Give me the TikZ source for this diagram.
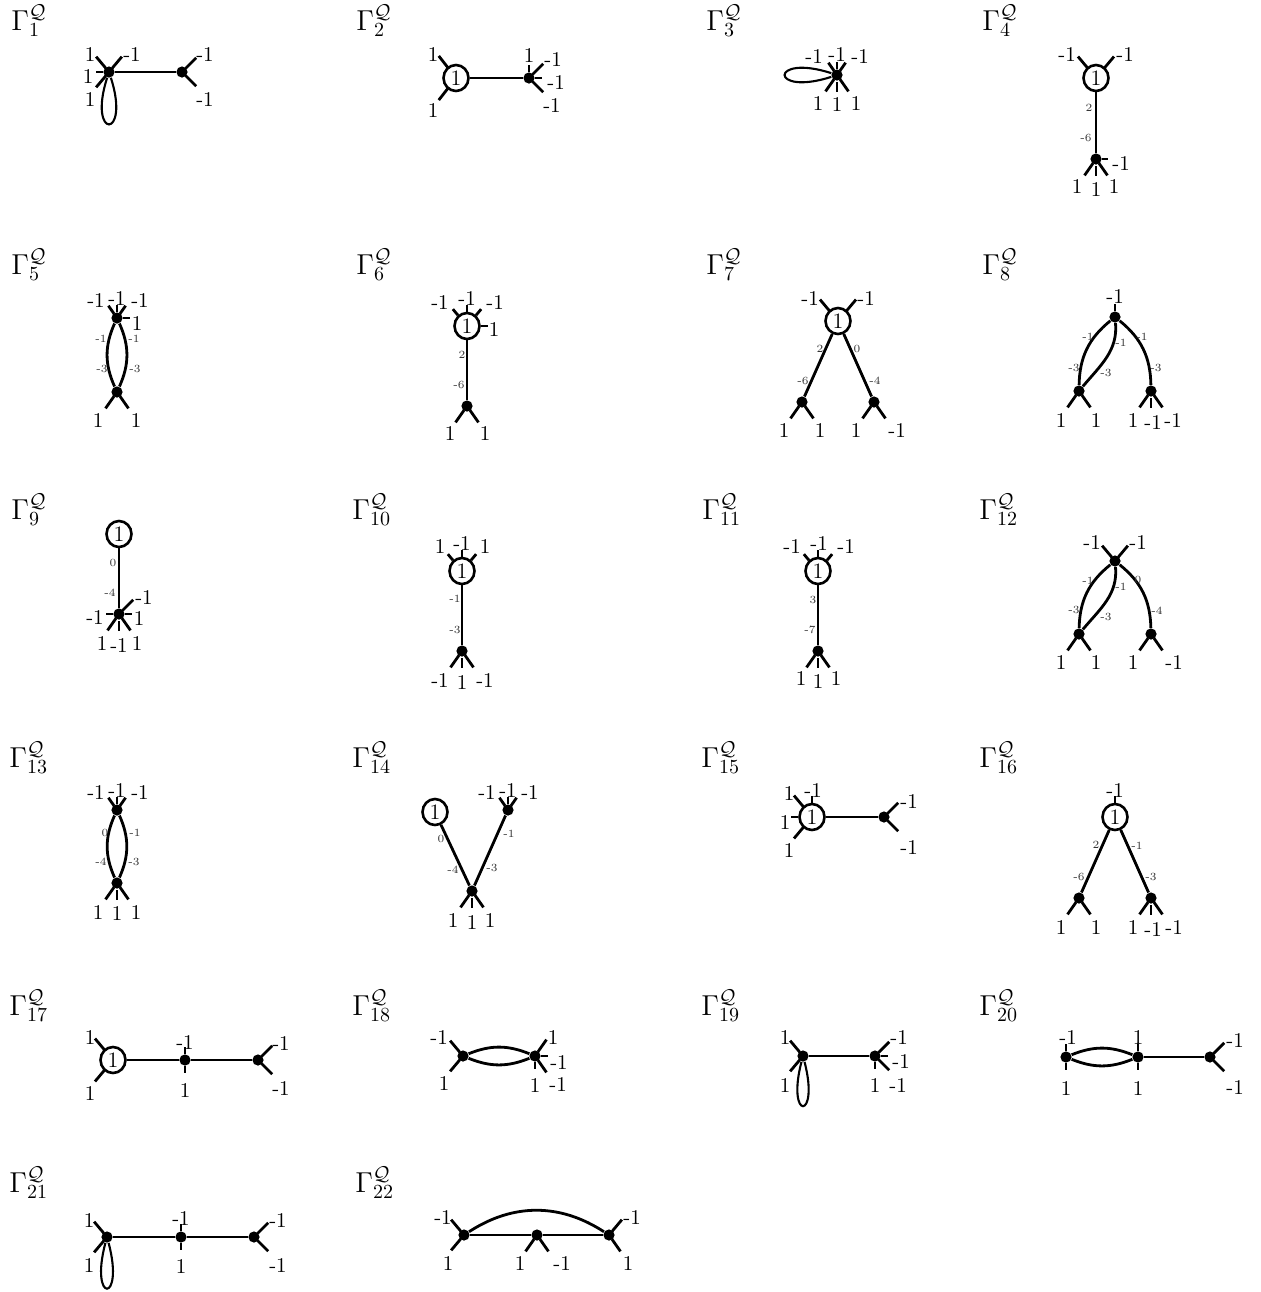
\documentclass[tikz,border=0pt]{standalone}
\usetikzlibrary{shapes.geometric}
\tikzset{
  dot/.style={circle, fill=black, inner sep=0pt, minimum size=5.6pt},
  vtx/.style={ellipse, draw, line width=1.3pt, inner sep=0pt, minimum width=12.5pt, minimum height=13pt, font=\fontsize{11}{12}\selectfont},
  edge/.style={line width=1.4pt},
  stub/.style={line width=1.4pt},
  lp/.style={line width=1.05pt},
  lbl/.style={inner sep=0pt, font=\fontsize{10.5}{12}\selectfont},
  sl/.style={inner sep=0pt, font=\fontsize{5.5}{6}\selectfont, text=black!80},
  ttl/.style={anchor=base west, inner sep=0pt, font=\Large},
}
\newcommand{\Stb}[4]{\draw[stub] ([shift={(#2:#3)}]#1.center) -- ([shift={(#2:#4)}]#1.center);}
\newcommand{\SDd}[2]{\Stb{#1}{#2}{5}{20}}
\newcommand{\SDt}[2]{\Stb{#1}{#2}{5}{15}}
\newcommand{\SDn}[2]{\Stb{#1}{#2}{6}{13}}
\newcommand{\SDs}[2]{\Stb{#1}{#2}{7}{17}}
\newcommand{\SCp}[2]{\Stb{#1}{#2}{13}{28}}
\newcommand{\SCf}[2]{\Stb{#1}{#2}{14}{22}}
\newcommand{\SCn}[2]{\Stb{#1}{#2}{14}{21}}
\newcounter{lbc}
\newcommand{\Lb}[2]{\stepcounter{lbc}\node[lbl] (lb\arabic{lbc}) at (#1) {#2};}
\newcommand{\Ls}[2]{\stepcounter{lbc}\node[sl] (lb\arabic{lbc}) at (#1) {#2};}
\newcommand{\Ttl}[3]{\node[ttl] (t#1) at (#2) {$\Gamma_{#3}^{\mathcal{Q}}$};}
\begin{document}
\begin{tikzpicture}[x=0.5pt,y=0.5pt]
\useasboundingbox (0,0) rectangle (1261,-1292);
% ---------- Gamma 1
\Ttl{1}{11,-30}{1}
\node[dot] (g1a) at (109,-72) {};
\node[dot] (g1b) at (182,-72) {};
\draw[edge] (g1a) -- (g1b);
\draw[lp] (g1a) .. controls +(-22,-68) and +(22,-68) .. (g1a);
\SDd{g1a}{130}\SDd{g1a}{50}\SDn{g1a}{180}\SDd{g1a}{230}
\SDd{g1b}{45}\SDd{g1b}{315}
\Lb{90,-55}{1}\Lb{132,-55}{-1}\Lb{88,-77}{1}\Lb{90,-100}{1}
\Lb{205,-55}{-1}\Lb{205,-100}{-1}
% ---------- Gamma 2
\Ttl{2}{356,-30}{2}
\node[vtx] (g2a) at (456,-78) {1};
\node[dot] (g2b) at (529,-78) {};
\draw[edge] (g2a) -- (g2b);
\SCp{g2a}{128}\SCp{g2a}{232}
\SDn{g2b}{90}\SDd{g2b}{45}\SDn{g2b}{0}\SDd{g2b}{315}
\Lb{433,-55}{1}\Lb{433,-110}{1}
\Lb{529,-56}{1}\Lb{553,-59}{-1}\Lb{556,-82}{-1}\Lb{552,-106}{-1}
% ---------- Gamma 3
\Ttl{3}{706,-30}{3}
\node[dot] (g3a) at (837,-75) {};
\draw[lp] (g3a) .. controls +(-68,22) and +(-68,-22) .. (g3a);
\SDt{g3a}{125}\SDn{g3a}{90}\SDt{g3a}{55}
\SDd{g3a}{235}\SDs{g3a}{270}\SDd{g3a}{305}
\Lb{814,-57}{-1}\Lb{837,-55}{-1}\Lb{860,-57}{-1}
\Lb{818,-103}{1}\Lb{837,-105}{1}\Lb{856,-103}{1}
% ---------- Gamma 4
\Ttl{4}{982,-30}{4}
\node[vtx] (g4a) at (1096,-78) {1};
\node[dot] (g4b) at (1096,-159) {};
\draw[edge] (g4a) -- (g4b);
\SCp{g4a}{130}\SCp{g4a}{50}
\Stb{g4b}{0}{6}{12}\SDd{g4b}{235}\SDs{g4b}{270}\SDd{g4b}{305}
\Lb{1067,-55}{-1}\Lb{1125,-55}{-1}
\Ls{1089,-108}{2}\Ls{1086,-138}{-6}
\Lb{1121,-164}{-1}\Lb{1077,-187}{1}\Lb{1096,-189}{1}\Lb{1114,-187}{1}
% ---------- Gamma 5
\Ttl{5}{11,-274}{5}
\node[dot] (g5a) at (117,-318) {};
\node[dot] (g5b) at (117,-392) {};
\draw[edge] (g5a) to[bend right=24] (g5b);
\draw[edge] (g5a) to[bend left=24] (g5b);
\SDt{g5a}{125}\SDn{g5a}{90}\SDt{g5a}{55}\SDn{g5a}{0}
\SDd{g5b}{235}\SDd{g5b}{305}
\Lb{96,-300}{-1}\Lb{117,-298}{-1}\Lb{140,-300}{-1}\Lb{137,-323}{1}
\Lb{98,-420}{1}\Lb{136,-420}{1}
\Ls{101,-339}{-1}\Ls{134,-339}{-1}\Ls{102,-369}{-3}\Ls{135,-369}{-3}
% ---------- Gamma 6
\Ttl{6}{356,-274}{6}
\node[vtx] (g6a) at (467,-326) {1};
\node[dot] (g6b) at (467,-406) {};
\draw[edge] (g6a) -- (g6b);
\SCf{g6a}{130}\SCn{g6a}{90}\SCf{g6a}{50}\SCn{g6a}{0}
\SDd{g6b}{235}\SDd{g6b}{305}
\Lb{440,-302}{-1}\Lb{467,-298}{-1}\Lb{495,-302}{-1}\Lb{494,-329}{1}
\Lb{450,-433}{1}\Lb{485,-433}{1}
\Ls{462,-355}{2}\Ls{459,-385}{-6}
% ---------- Gamma 7
\Ttl{7}{706,-274}{7}
\node[vtx] (g7a) at (838,-321) {1};
\node[dot] (g7b) at (802,-402) {};
\node[dot] (g7c) at (874,-402) {};
\draw[edge] (g7a) -- (g7b);
\draw[edge] (g7a) -- (g7c);
\SCp{g7a}{130}\SCp{g7a}{50}
\SDd{g7b}{235}\SDd{g7b}{305}\SDd{g7c}{235}\SDd{g7c}{305}
\Lb{810,-298}{-1}\Lb{866,-298}{-1}
\Lb{784,-430}{1}\Lb{820,-430}{1}\Lb{856,-430}{1}\Lb{897,-430}{-1}
\Ls{820,-349}{2}\Ls{857,-349}{0}\Ls{803,-381}{-6}\Ls{875,-381}{-4}
% ---------- Gamma 8
\Ttl{8}{982,-274}{8}
\node[dot] (g8a) at (1115,-317) {};
\node[dot] (g8b) at (1079,-391) {};
\node[dot] (g8c) at (1151,-391) {};
\draw[edge] (g8a) to[bend right=25] (g8b);
\draw[edge] (g8a) to[out=-85,in=50] (g8b);
\draw[edge] (g8a) to[bend left=25] (g8c);
\SDn{g8a}{90}
\SDd{g8b}{235}\SDd{g8b}{305}
\SDd{g8c}{235}\SDs{g8c}{270}\SDd{g8c}{305}
\Lb{1115,-296}{-1}
\Lb{1061,-420}{1}\Lb{1096,-420}{1}\Lb{1133,-420}{1}\Lb{1153,-422}{-1}\Lb{1173,-420}{-1}
\Ls{1088,-337}{-1}\Ls{1121,-343}{-1}\Ls{1142,-337}{-1}
\Ls{1074,-368}{-3}\Ls{1106,-373}{-3}\Ls{1156,-368}{-3}
% ---------- Gamma 9
\Ttl{9}{11,-519}{9}
\node[vtx] (g9a) at (119,-534) {1};
\node[dot] (g9b) at (119,-614) {};
\draw[edge] (g9a) -- (g9b);
\SDd{g9b}{45}\SDn{g9b}{180}\SDn{g9b}{0}
\SDd{g9b}{235}\SDs{g9b}{270}\SDd{g9b}{305}
\Lb{144,-597}{-1}\Lb{95,-617}{-1}\Lb{139,-618}{1}
\Lb{102,-643}{1}\Lb{119,-645}{-1}\Lb{137,-643}{1}
\Ls{113,-563}{0}\Ls{110,-593}{-4}
% ---------- Gamma 10
\Ttl{10}{352,-519}{10}
\node[vtx] (g10a) at (462,-571) {1};
\node[dot] (g10b) at (462,-651) {};
\draw[edge] (g10a) -- (g10b);
\SCf{g10a}{130}\SCn{g10a}{90}\SCf{g10a}{50}
\SDd{g10b}{235}\SDs{g10b}{270}\SDd{g10b}{305}
\Lb{440,-546}{1}\Lb{462,-543}{-1}\Lb{485,-546}{1}
\Lb{440,-680}{-1}\Lb{462,-682}{1}\Lb{485,-680}{-1}
\Ls{455,-599}{-1}\Ls{455,-630}{-3}
% ---------- Gamma 11
\Ttl{11}{702,-519}{11}
\node[vtx] (g11a) at (818,-571) {1};
\node[dot] (g11b) at (818,-651) {};
\draw[edge] (g11a) -- (g11b);
\SCf{g11a}{130}\SCn{g11a}{90}\SCf{g11a}{50}
\SDd{g11b}{235}\SDs{g11b}{270}\SDd{g11b}{305}
\Lb{792,-546}{-1}\Lb{819,-543}{-1}\Lb{846,-546}{-1}
\Lb{801,-678}{1}\Lb{818,-681}{1}\Lb{836,-678}{1}
\Ls{813,-600}{3}\Ls{810,-630}{-7}
% ---------- Gamma 12
\Ttl{12}{979,-519}{12}
\node[dot] (g12a) at (1115,-561) {};
\node[dot] (g12b) at (1079,-634) {};
\node[dot] (g12c) at (1151,-634) {};
\draw[edge] (g12a) to[bend right=25] (g12b);
\draw[edge] (g12a) to[out=-85,in=50] (g12b);
\draw[edge] (g12a) to[bend left=25] (g12c);
\SDd{g12a}{130}\SDd{g12a}{50}
\SDd{g12b}{235}\SDd{g12b}{305}\SDd{g12c}{235}\SDd{g12c}{305}
\Lb{1092,-542}{-1}\Lb{1138,-542}{-1}
\Lb{1061,-662}{1}\Lb{1096,-662}{1}\Lb{1133,-662}{1}\Lb{1174,-662}{-1}
\Ls{1088,-581}{-1}\Ls{1121,-587}{-1}\Ls{1138,-580}{0}
\Ls{1074,-610}{-3}\Ls{1106,-617}{-3}\Ls{1157,-611}{-4}
% ---------- Gamma 13
\Ttl{13}{9,-767}{13}
\node[dot] (g13a) at (117,-810) {};
\node[dot] (g13b) at (117,-883) {};
\draw[edge] (g13a) to[bend right=24] (g13b);
\draw[edge] (g13a) to[bend left=24] (g13b);
\SDt{g13a}{125}\SDn{g13a}{90}\SDt{g13a}{55}
\SDd{g13b}{235}\SDs{g13b}{270}\SDd{g13b}{305}
\Lb{96,-792}{-1}\Lb{117,-790}{-1}\Lb{140,-792}{-1}
\Lb{98,-912}{1}\Lb{117,-913}{1}\Lb{136,-912}{1}
\Ls{105,-833}{0}\Ls{135,-833}{-1}\Ls{101,-862}{-4}\Ls{134,-862}{-3}
% ---------- Gamma 14
\Ttl{14}{352,-767}{14}
\node[vtx] (g14a) at (435,-812) {1};
\node[dot] (g14b) at (508,-810) {};
\node[dot] (g14c) at (472,-891) {};
\draw[edge] (g14a) -- (g14c);
\draw[edge] (g14b) -- (g14c);
\SDt{g14b}{125}\SDn{g14b}{90}\SDt{g14b}{55}
\SDd{g14c}{235}\SDs{g14c}{270}\SDd{g14c}{305}
\Lb{487,-792}{-1}\Lb{508,-790}{-1}\Lb{530,-792}{-1}
\Lb{453,-920}{1}\Lb{472,-922}{1}\Lb{490,-920}{1}
\Ls{441,-839}{0}\Ls{453,-870}{-4}\Ls{509,-834}{-1}\Ls{492,-868}{-3}
% ---------- Gamma 15
\Ttl{15}{701,-767}{15}
\node[vtx] (g15a) at (812,-817) {1};
\node[dot] (g15b) at (884,-817) {};
\draw[edge] (g15a) -- (g15b);
\SCp{g15a}{130}\SCn{g15a}{90}\SCn{g15a}{180}\SCp{g15a}{230}
\SDd{g15b}{45}\SDd{g15b}{315}
\Lb{789,-793}{1}\Lb{813,-790}{-1}\Lb{785,-822}{1}\Lb{789,-850}{1}
\Lb{909,-801}{-1}\Lb{909,-847}{-1}
% ---------- Gamma 16
\Ttl{16}{979,-767}{16}
\node[vtx] (g16a) at (1115,-817) {1};
\node[dot] (g16b) at (1079,-898) {};
\node[dot] (g16c) at (1151,-898) {};
\draw[edge] (g16a) -- (g16b);
\draw[edge] (g16a) -- (g16c);
\SCn{g16a}{90}
\SDd{g16b}{235}\SDd{g16b}{305}
\SDd{g16c}{235}\SDs{g16c}{270}\SDd{g16c}{305}
\Lb{1115,-790}{-1}
\Lb{1061,-927}{1}\Lb{1096,-927}{1}\Lb{1133,-927}{1}\Lb{1153,-929}{-1}\Lb{1174,-927}{-1}
\Ls{1096,-845}{2}\Ls{1137,-846}{-1}\Ls{1079,-877}{-6}\Ls{1151,-877}{-3}
% ---------- Gamma 17
\Ttl{17}{9,-1015}{17}
\node[vtx] (g17a) at (113,-1060) {1};
\node[dot] (g17b) at (185,-1060) {};
\node[dot] (g17c) at (258,-1060) {};
\draw[edge] (g17a) -- (g17b);
\draw[edge] (g17b) -- (g17c);
\SCp{g17a}{130}\SCp{g17a}{230}
\SDn{g17b}{90}\SDn{g17b}{270}
\SDd{g17c}{45}\SDd{g17c}{315}
\Lb{90,-1037}{1}\Lb{90,-1093}{1}\Lb{185,-1042}{-1}\Lb{185,-1090}{1}
\Lb{281,-1043}{-1}\Lb{281,-1088}{-1}
% ---------- Gamma 18
\Ttl{18}{352,-1015}{18}
\node[dot] (g18a) at (463,-1056) {};
\node[dot] (g18b) at (535,-1056) {};
\draw[edge] (g18a) to[bend left=22] (g18b);
\draw[edge] (g18a) to[bend right=22] (g18b);
\SDd{g18a}{130}\SDd{g18a}{230}
\SDd{g18b}{55}\SDn{g18b}{0}\SDn{g18b}{270}\SDd{g18b}{305}
\Lb{439,-1037}{-1}\Lb{444,-1083}{1}
\Lb{553,-1037}{1}\Lb{559,-1062}{-1}\Lb{535,-1085}{1}\Lb{558,-1084}{-1}
% ---------- Gamma 19
\Ttl{19}{701,-1015}{19}
\node[dot] (g19a) at (803,-1056) {};
\node[dot] (g19b) at (875,-1056) {};
\draw[edge] (g19a) -- (g19b);
\draw[lp] (g19a) .. controls +(-17,-65) and +(17,-65) .. (g19a);
\SDd{g19a}{130}\SDd{g19a}{230}
\SDd{g19b}{45}\SDn{g19b}{0}\SDn{g19b}{270}\SDd{g19b}{315}
\Lb{785,-1037}{1}\Lb{785,-1085}{1}
\Lb{899,-1037}{-1}\Lb{901,-1061}{-1}\Lb{875,-1085}{1}\Lb{898,-1085}{-1}
% ---------- Gamma 20
\Ttl{20}{979,-1015}{20}
\node[dot] (g20a) at (1066,-1057) {};
\node[dot] (g20b) at (1138,-1057) {};
\node[dot] (g20c) at (1210,-1057) {};
\draw[edge] (g20a) to[bend left=22] (g20b);
\draw[edge] (g20a) to[bend right=22] (g20b);
\draw[edge] (g20b) -- (g20c);
\SDn{g20a}{90}\SDn{g20a}{270}\SDn{g20b}{90}\SDn{g20b}{270}
\SDd{g20c}{45}\SDd{g20c}{315}
\Lb{1068,-1037}{-1}\Lb{1066,-1088}{1}\Lb{1138,-1037}{1}\Lb{1138,-1088}{1}
\Lb{1235,-1040}{-1}\Lb{1235,-1087}{-1}
% ---------- Gamma 21
\Ttl{21}{9,-1192}{21}
\node[dot] (g21a) at (107,-1237) {};
\node[dot] (g21b) at (181,-1237) {};
\node[dot] (g21c) at (254,-1237) {};
\draw[edge] (g21a) -- (g21b);
\draw[edge] (g21b) -- (g21c);
\draw[lp] (g21a) .. controls +(-18,-67) and +(18,-67) .. (g21a);
\SDd{g21a}{130}\SDd{g21a}{230}
\SDn{g21b}{90}\SDn{g21b}{270}
\SDd{g21c}{45}\SDd{g21c}{315}
\Lb{89,-1220}{1}\Lb{89,-1265}{1}\Lb{181,-1218}{-1}\Lb{181,-1266}{1}
\Lb{278,-1220}{-1}\Lb{278,-1265}{-1}
% ---------- Gamma 22
\Ttl{22}{355,-1192}{22}
\node[dot] (g22a) at (464,-1235) {};
\node[dot] (g22b) at (537,-1235) {};
\node[dot] (g22c) at (609,-1235) {};
\draw[edge] (g22a) -- (g22b);
\draw[edge] (g22b) -- (g22c);
\draw[edge] (g22a) to[bend left=33] (g22c);
\SDd{g22a}{130}\SDd{g22a}{230}
\SDd{g22b}{235}\SDd{g22b}{305}
\SDd{g22c}{50}\SDd{g22c}{305}
\Lb{443,-1217}{-1}\Lb{448,-1263}{1}\Lb{520,-1263}{1}\Lb{562,-1263}{-1}
\Lb{632,-1217}{-1}\Lb{628,-1263}{1}
\end{tikzpicture}
\end{document}
